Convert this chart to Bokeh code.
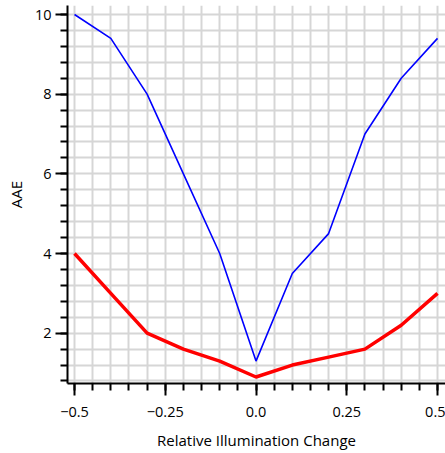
from bokeh.plotting import figure
from bokeh.models import FixedTicker, Range1d
from bokeh.embed import file_html
from bokeh.resources import INLINE

x_vals = [-0.5, -0.4, -0.3, -0.2, -0.1, 0.0, 0.1, 0.2, 0.3, 0.4, 0.5]
blue_aae = [10.0, 9.4, 8.0, 6.0, 4.0, 1.3, 3.5, 4.5, 7.0, 8.4, 9.4]
red_aae = [4.0, 3.0, 2.0, 1.6, 1.3, 0.9, 1.2, 1.4, 1.6, 2.2, 3.0]

x_major = [-0.5, -0.25, 0.0, 0.25, 0.5]
x_labels = ["\u22120.5", "\u22120.25", "0.0", "0.25", "0.5"]
y_major = [2, 4, 6, 8, 10]
y_labels = ["2", "4", "6", "8", "10"]

x_minor = [round(-0.5 + 0.05 * i, 2) for i in range(21)]
y_minor = [round(0.8 + 0.4 * i, 2) for i in range(24)]

FONT = "Open Sans"

p = figure(width=445, height=453, output_backend="svg", toolbar_location=None,
           x_range=Range1d(-0.5193, 0.522), y_range=Range1d(0.737, 10.226),
           min_border_left=67, min_border_right=0, min_border_top=5, min_border_bottom=70)
p.outline_line_color = None
p.background_fill_color = "white"
p.border_fill_color = "white"

p.xgrid.ticker = FixedTicker(ticks=x_minor)
p.ygrid.ticker = FixedTicker(ticks=y_minor)
for g in (p.xgrid, p.ygrid):
    g.grid_line_color = "#d6d6d6"
    g.grid_line_width = 2

p.line(x_vals, blue_aae, line_color="#0000ff", line_width=1.6)
p.line(x_vals, red_aae, line_color="#ff0000", line_width=3.5)

p.xaxis.ticker = FixedTicker(ticks=x_major, minor_ticks=x_minor)
p.xaxis.major_label_overrides = {v: s for v, s in zip(x_major, x_labels)}
p.yaxis.ticker = FixedTicker(ticks=y_major, minor_ticks=y_minor)
p.yaxis.major_label_overrides = {v: s for v, s in zip(y_major, y_labels)}

p.xaxis.axis_label = "Relative Illumination Change"
p.yaxis.axis_label = "AAE"

for ax in (p.xaxis[0], p.yaxis[0]):
    ax.axis_line_color = "black"
    ax.axis_line_width = 2
    ax.major_tick_line_color = "black"
    ax.major_tick_line_width = 2
    ax.minor_tick_line_color = "black"
    ax.minor_tick_line_width = 2
    ax.major_tick_in = 0
    ax.major_tick_out = 12
    ax.minor_tick_in = 0
    ax.minor_tick_out = 7
    ax.major_label_text_font = FONT
    ax.major_label_text_font_size = "14.5px"
    ax.major_label_text_color = "black"
    ax.axis_label_text_font = FONT
    ax.axis_label_text_font_size = "15px"
    ax.axis_label_text_font_style = "normal"
    ax.axis_label_text_color = "black"

p.xaxis.major_label_standoff = 11
p.xaxis.axis_label_standoff = 10
p.yaxis.major_label_standoff = 4
p.yaxis.axis_label_standoff = 6

open("out.html", "w").write(file_html(p, INLINE))
